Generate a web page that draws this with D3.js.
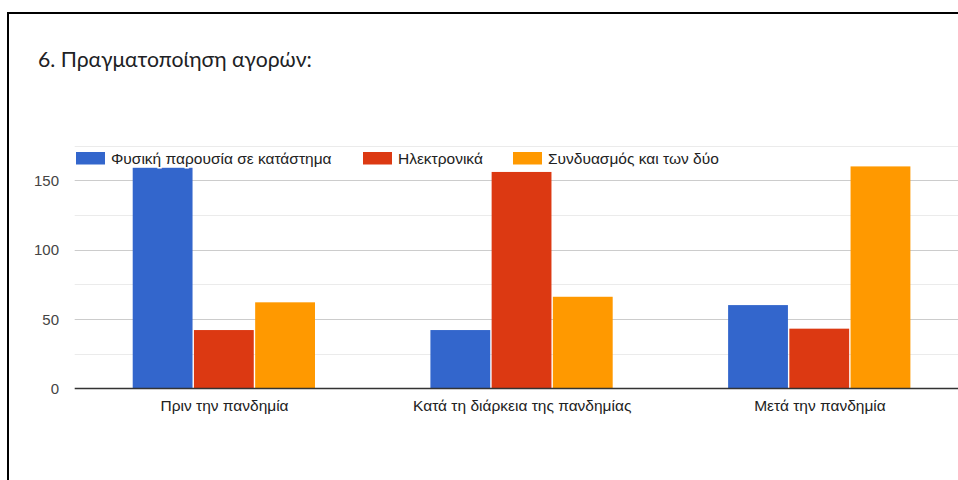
<!DOCTYPE html>
<html>
<head>
<meta charset="utf-8">
<script src="https://cdn.jsdelivr.net/npm/d3@7"></script>
<style>
  html, body { margin: 0; padding: 0; background: #fff; }
  svg { display: block; }
</style>
</head>
<body>
<svg id="chart" width="958" height="480"></svg>
<script>
const title = "6. Πραγματοποίηση αγορών:";
const categories = ["Πριν την πανδημία", "Κατά τη διάρκεια της πανδημίας", "Μετά την πανδημία"];
const seriesNames = ["Φυσική παρουσία σε κατάστημα", "Ηλεκτρονικά", "Συνδυασμός και των δύο"];
const physicalValues = [159, 42, 60];
const onlineValues = [42, 156, 43];
const bothValues = [62, 66, 160];
const seriesColors = ["#3366cc", "#dc3912", "#ff9900"];
const yTicks = [0, 50, 100, 150];
const yGridTicks = [0, 25, 50, 75, 100, 125, 150, 175];

const seriesValues = [physicalValues, onlineValues, bothValues];

const svg = d3.select("#chart");

// frame
svg.append("rect")
  .attr("x", 8).attr("y", 13)
  .attr("width", 1200).attr("height", 1000)
  .attr("fill", "#fff")
  .attr("stroke", "#000").attr("stroke-width", 2);

// title
svg.append("text")
  .attr("x", 38).attr("y", 67)
  .attr("font-family", "Lato, 'Open Sans', sans-serif")
  .attr("font-size", 21.2)
  .attr("fill", "#202124")
  .text(title);

const plotLeft = 75.7, plotRight = 968.8;
const y = d3.scaleLinear().domain([0, 175]).range([388.3, 145.6]);
const x0 = d3.scaleBand().domain(categories).range([plotLeft, plotRight])
  .paddingInner(0.383).paddingOuter(0.1915);
const x1 = d3.scaleBand().domain(seriesNames).range([0, x0.bandwidth()]).padding(0);

// gridlines
svg.append("g").selectAll("line").data(yGridTicks.filter(d => d !== 0)).join("line")
  .attr("x1", plotLeft - 1).attr("x2", plotRight)
  .attr("y1", d => Math.round(y(d)) + 0.5).attr("y2", d => Math.round(y(d)) + 0.5)
  .attr("stroke", d => d % 50 === 0 ? "#cccccc" : "#ebebeb")
  .attr("stroke-width", 1);

// y labels
const yAxis = d3.axisLeft(y).tickValues(yTicks).tickSize(0).tickPadding(0);
const ya = svg.append("g").attr("transform", `translate(59,0)`).call(yAxis);
ya.select(".domain").remove();
ya.selectAll("text")
  .attr("font-family", "Arial, 'Liberation Sans', sans-serif")
  .attr("font-size", 15)
  .attr("fill", "#444")
  .attr("dy", "0.35em");

// bars
const groups = svg.append("g").selectAll("g").data(categories).join("g")
  .attr("transform", d => `translate(${x0(d)},0)`);
groups.selectAll("rect")
  .data((c, i) => seriesNames.map((s, j) => ({ s, j, v: seriesValues[j][i] })))
  .join("rect")
  .attr("x", d => x1(d.s))
  .attr("width", x1.bandwidth() - 1.4)
  .attr("y", d => y(d.v))
  .attr("height", d => y(0) - y(d.v))
  .attr("fill", d => seriesColors[d.j]);

// baseline
svg.append("line")
  .attr("x1", plotLeft - 1).attr("x2", plotRight)
  .attr("y1", Math.round(y(0)) + 0.5).attr("y2", Math.round(y(0)) + 0.5)
  .attr("stroke", "#333").attr("stroke-width", 1.3);

// x labels
const xAxis = d3.axisBottom(x0).tickSize(0).tickPadding(0);
const xa = svg.append("g").attr("transform", `translate(0,400)`).call(xAxis);
xa.select(".domain").remove();
xa.selectAll("text")
  .attr("font-family", "Arial, 'Liberation Sans', sans-serif")
  .attr("font-size", 15.5)
  .attr("fill", "#222")
  .attr("dy", "0.71em");

// legend
const legendX = [76, 363, 513];
const leg = svg.append("g").selectAll("g").data(seriesNames).join("g")
  .attr("transform", (d, i) => `translate(${legendX[i]},152)`);
leg.append("rect").attr("width", 29).attr("height", 12.5)
  .attr("fill", (d, i) => seriesColors[i]);
leg.append("text")
  .attr("x", 35).attr("y", 11.5)
  .attr("font-family", "Arial, 'Liberation Sans', sans-serif")
  .attr("font-size", 15.5)
  .attr("fill", "#222")
  .attr("stroke", "#fff").attr("stroke-width", 3).attr("paint-order", "stroke")
  .text(d => d);
</script>
</body>
</html>
